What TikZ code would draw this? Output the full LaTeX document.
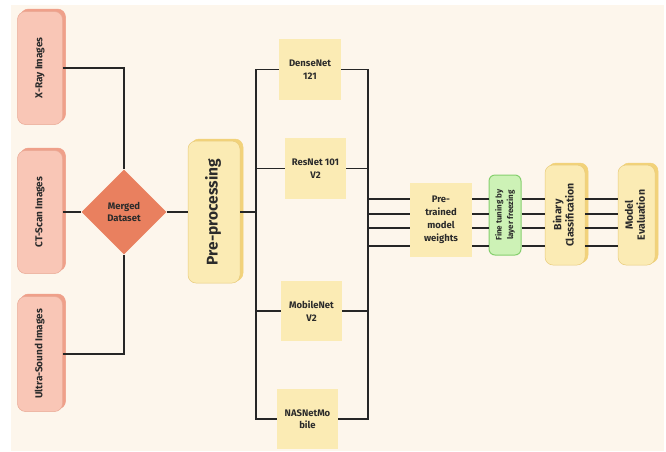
\documentclass[tikz,border=0pt]{standalone}
\usepackage{fontspec}
\setmainfont{Fira Sans}
\usetikzlibrary{shapes.geometric,shadows}
\definecolor{bgc}{HTML}{FDF6EC}
\definecolor{pinkF}{HTML}{F9C6B6}
\definecolor{pinkS}{HTML}{EFA08A}
\definecolor{pinkD}{HTML}{E9A995}
\definecolor{coral}{HTML}{E9805F}
\definecolor{yelF}{HTML}{FBEBB4}
\definecolor{yelS}{HTML}{F2D27A}
\definecolor{yelD}{HTML}{E8CB7A}
\definecolor{grnF}{HTML}{CDF2B6}
\definecolor{grnD}{HTML}{86CF6E}
\definecolor{txt}{HTML}{2B2B2B}
\definecolor{ln}{HTML}{262626}
\newcommand{\rt}[1]{\rotatebox{90}{\begin{tabular}{@{}c@{}}#1\end{tabular}}}
\begin{document}
\begin{tikzpicture}[x=1pt,y=-1pt,
  every node/.style={text=txt,font=\bfseries},
  pinkbox/.style={rounded corners=8pt,fill=pinkF,draw=pinkD,line width=0.5pt,
    minimum width=45pt,inner sep=0pt,font=\bfseries\fontsize{10}{12}\selectfont,
    copy shadow={shadow xshift=3pt,shadow yshift=2.5pt,fill=pinkS,draw=pinkS}},
  yelshadow/.style={rounded corners=8pt,fill=yelF,draw=yelD,line width=0.5pt,inner sep=0pt,
    copy shadow={shadow xshift=3pt,shadow yshift=2pt,fill=yelS,draw=yelS}},
  flatbox/.style={fill=yelF,inner sep=0pt,align=center,
    font=\bfseries\fontsize{9.5}{12.5}\selectfont},
  conn/.style={draw=ln,line width=1.3pt}]
\useasboundingbox (0,0) rectangle (666,451);
\fill[white] (0,0) rectangle (666,451);
\fill[bgc] (11,5) rectangle (664,451);

% sources
\node[pinkbox,minimum height=113pt] (xray) at (40,68) {\rt{X-Ray Images}};
\node[pinkbox,minimum height=123pt] (ct) at (40,212) {\rt{CT-Scan Images}};
\node[pinkbox,minimum height=115pt] (us) at (40,354) {\rt{Ultra-Sound Images}};

\node[diamond,aspect=1,fill=coral,minimum width=85pt,minimum height=85pt,inner sep=0pt,
  align=center,font=\bfseries\fontsize{9.5}{12.5}\selectfont] (md) at (124,212) {Merged\\Dataset};

\node[yelshadow,minimum width=52pt,minimum height=142pt,
  font=\bfseries\fontsize{15.5}{18}\selectfont] (pre) at (214,212) {\rt{Pre-processing}};

% models
\node[flatbox,minimum width=62pt,minimum height=61pt] (dense) at (310,69.5) {DenseNet\\121};
\node[flatbox,minimum width=61pt,minimum height=61pt] (res) at (315.5,168.5) {ResNet 101\\V2};
\node[flatbox,minimum width=61pt,minimum height=60pt] (mob) at (311.5,311) {MobileNet\\V2};
\node[flatbox,minimum width=61pt,minimum height=60pt] (nas) at (307.5,419) {NASNetMo\\bile};

% pipeline
\node[flatbox,minimum width=62pt,minimum height=74pt,
  font=\bfseries\fontsize{9.5}{13}\selectfont] (ptw) at (441,220) {Pre-\\trained\\model\\weights};
\node[rounded corners=6pt,fill=grnF,draw=grnD,line width=1pt,minimum width=32pt,minimum height=80pt,
  inner sep=0pt,font=\bfseries\fontsize{8}{11.5}\selectfont] (ft) at (505,215) {\rt{Fine tuning by\\layer freezing}};
\node[yelshadow,minimum width=40pt,minimum height=100pt,
  font=\bfseries\fontsize{10.5}{12}\selectfont] (bc) at (565,215) {\rt{Binary\\Classification}};
\node[yelshadow,minimum width=37pt,minimum height=100pt,
  font=\bfseries\fontsize{10.5}{12}\selectfont] (me) at (636.5,215) {\rt{Model\\Evaluation}};

% connectors
\draw[conn] (xray.east) -| (md.north);
\draw[conn] (ct.east) -- (md.west);
\draw[conn] (us.east) -| (md.south);
\draw[conn] (md.east) -- (pre.west);

\coordinate (bl) at (256,0);
\coordinate (br) at (368,0);
\draw[conn] (pre.east) -- (pre.east -| bl);
\draw[conn] (dense.west) -- (dense.west -| bl) -- (nas.west -| bl) -- (nas.west);
\draw[conn] (res.west -| bl) -- (res.west);
\draw[conn] (mob.west -| bl) -- (mob.west);
\draw[conn] (dense.east) -- (dense.east -| br) -- (nas.east -| br) -- (nas.east);
\draw[conn] (res.east) -- (res.east -| br);
\draw[conn] (mob.east) -- (mob.east -| br);

\coordinate (L1) at (0,199);
\coordinate (L2) at (0,214);
\coordinate (L3) at (0,228);
\coordinate (L4) at (0,246);
\foreach \l in {L1,L2,L3,L4}{
  \draw[conn] (br |- \l) -- (ptw.west |- \l);
  \draw[conn] (ptw.east |- \l) -- (ft.west |- \l);
  \draw[conn] (ft.east |- \l) -- (bc.west |- \l);
  \draw[conn] (bc.east |- \l) -- (me.west |- \l);
}
\end{tikzpicture}
\end{document}
